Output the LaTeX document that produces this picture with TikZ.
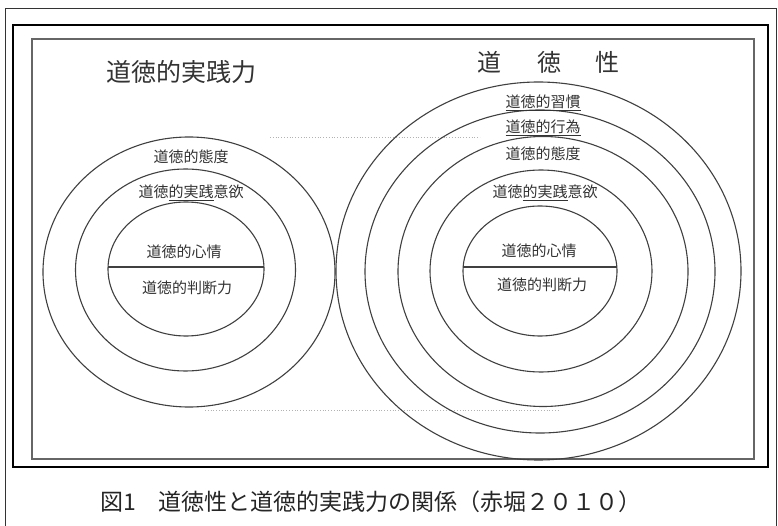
\documentclass[tikz,border=0pt]{standalone}
\usepackage{fontspec}
\setmainfont{Noto Sans CJK JP}
\newfontfamily\jp{Noto Sans CJK JP}
\begin{document}
\begin{tikzpicture}[x=1pt,y=-1pt,
  ring/.style={draw=black!75, line width=1.1pt},
  lbl/.style={font=\jp\fontsize{15}{17}\selectfont, text=black!80, inner sep=0pt},
  ttl/.style={font=\jp\fontsize{25}{28}\selectfont, text=black!80, inner sep=0pt},
  faint/.style={draw=black!30, dotted, line width=0.8pt}]
\useasboundingbox (0,0) rectangle (778,526);
\fill[white] (0,0) rectangle (778,526);
% frames
\draw[black!80, line width=1pt] (5,530) -- (5,9) -- (776.5,9) -- (776.5,530);
\draw[black, line width=1.8pt] (13,25) rectangle (768,467);
\draw[black!60, line width=2.6pt] (32,39) rectangle (754,459);
% faint scan lines
\draw[faint] (270,137) -- (480,137);
\draw[faint] (205,410) -- (560,410);
% left rings
\draw[ring] (189,272) ellipse [x radius=146, y radius=135];
\draw[ring] (185.5,270) ellipse [x radius=110, y radius=101];
\draw[ring] (186,269) ellipse [x radius=78, y radius=67];
\coordinate (la) at (108,267);
\coordinate (lb) at (264,267);
\draw[ring] (la) -- (lb);
% right rings
\draw[ring] (538.5,271) ellipse [x radius=202.5, y radius=189];
\draw[ring] (540,271.5) ellipse [x radius=175, y radius=161.5];
\draw[ring] (543,271.5) ellipse [x radius=145, y radius=135];
\draw[ring] (541,271) ellipse [x radius=111, y radius=101];
\draw[ring] (540,271) ellipse [x radius=77, y radius=65];
\coordinate (ra) at (463,267);
\coordinate (rb) at (617,267);
\draw[ring] (ra) -- (rb);
% titles
\node[ttl] (ltitle) at (181,72) {道徳的実践力};
\node[ttl, font=\jp\fontsize{24}{28}\selectfont] (rt1) at (489,62) {道};
\node[ttl, font=\jp\fontsize{24}{28}\selectfont] (rt2) at (549,62) {徳};
\node[ttl, font=\jp\fontsize{24}{28}\selectfont] (rt3) at (607,62) {性};
% left labels
\node[lbl] (l1) at (191,157) {道徳的態度};
\node[lbl] (l2) at (191,193) {道徳\underline{的実践}意欲};
\node[lbl] (l3) at (184,252) {道徳的心情};
\node[lbl] (l4) at (187,288) {道徳的判断力};
% right labels
\node[lbl] (r1) at (543,103) {\underline{道徳的習慣}};
\node[lbl] (r2) at (543,128) {\underline{道徳的行為}};
\node[lbl] (r3) at (543,154) {道徳的態度};
\node[lbl] (r4) at (545,193) {道徳\underline{的実践}意欲};
\node[lbl] (r5) at (539,251) {道徳的心情};
\node[lbl] (r6) at (542,285) {道徳的判断力};
% caption
\node[anchor=west, inner sep=0pt, font=\jp\fontsize{23}{26}\selectfont, text=black!85] (cap) at (100,502) {図1　道徳性と道徳的実践力の関係（赤堀２０１０）};
\end{tikzpicture}
\end{document}
